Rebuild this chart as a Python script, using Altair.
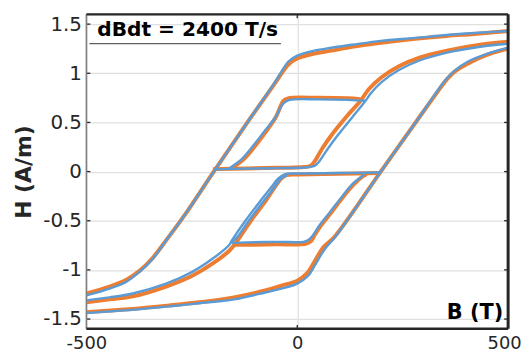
import altair as alt
import pandas as pd

ORANGE = "#ED7D31"
BLUE = "#5B9BD5"

# ---- curve A: outer descending branch ----
a_blue_b = [500, 420, 355, 280, 198, 130, 81, 40, 0, -21, -37, -56, -115, -198, -265, -311, -343, -374, -405, -445, -500]
a_blue_h = [1.43, 1.41, 1.39, 1.36, 1.33, 1.29, 1.26, 1.23, 1.18, 1.12, 1.02, 0.89, 0.52, 0.0, -0.43, -0.70, -0.89, -1.02, -1.12, -1.19, -1.26]
a_orng_b = [500, 420, 355, 280, 198, 130, 81, 40, 0, -21, -37, -56, -115, -198, -265, -311, -343, -374, -405, -445, -500]
a_orng_h = [1.43, 1.40, 1.38, 1.35, 1.31, 1.27, 1.23, 1.20, 1.15, 1.09, 1.00, 0.88, 0.52, 0.0, -0.43, -0.70, -0.88, -1.01, -1.10, -1.17, -1.24]

# ---- curve B: outer ascending branch ----
b_blue_b = [-500, -400, -300, -233, -150, -76, -37, 0, 26, 41, 65, 89, 198, 289, 324, 355, 374, 405, 445, 500]
b_blue_h = [-1.44, -1.41, -1.37, -1.34, -1.30, -1.23, -1.19, -1.14, -1.06, -0.96, -0.79, -0.67, 0.0, 0.55, 0.77, 0.95, 1.03, 1.12, 1.19, 1.26]
b_orng_b = [-500, -400, -300, -233, -150, -76, -37, 0, 24, 39, 62, 89, 198, 289, 324, 355, 374, 405, 445, 500]
b_orng_h = [-1.43, -1.40, -1.36, -1.33, -1.28, -1.21, -1.16, -1.11, -1.03, -0.93, -0.77, -0.66, 0.0, 0.55, 0.76, 0.94, 1.02, 1.10, 1.18, 1.25]

# ---- curve C: middle upper branch, right side of upper minor loop ----
c_blue_b = [500, 434, 355, 290, 240, 200, 175, 162, 130, 96, 72, 55, 45, 35, 18, -50, -120, -195]
c_blue_h = [1.30, 1.27, 1.21, 1.13, 1.03, 0.91, 0.80, 0.72, 0.55, 0.37, 0.23, 0.12, 0.07, 0.05, 0.042, 0.035, 0.03, 0.022]
c_orng_b = [500, 434, 355, 290, 240, 200, 170, 150, 115, 81, 60, 45, 35, 25, 10, -50, -120, -200]
c_orng_h = [1.32, 1.29, 1.23, 1.16, 1.07, 0.96, 0.84, 0.72, 0.55, 0.37, 0.24, 0.13, 0.07, 0.05, 0.045, 0.038, 0.032, 0.025]

# ---- curve D: left side and top edge of upper minor loop ----
d_blue_b = [-162, -155, -131, -107, -76, -52, -37, -28, -18, 50, 120, 162]
d_blue_h = [0.03, 0.05, 0.13, 0.25, 0.42, 0.55, 0.67, 0.71, 0.73, 0.735, 0.73, 0.72]
d_orng_b = [-158, -150, -126, -102, -72, -50, -40, -33, -22, 50, 120, 150]
d_orng_h = [0.03, 0.05, 0.13, 0.25, 0.42, 0.56, 0.66, 0.72, 0.745, 0.75, 0.745, 0.735]

# ---- curve E: middle lower branch, left side of lower minor loop ----
e_blue_b = [-500, -445, -390, -311, -249, -202, -162, -155, -123, -84, -60, -45, -29, 0, 100, 195]
e_blue_h = [-1.31, -1.28, -1.24, -1.14, -1.02, -0.89, -0.75, -0.70, -0.50, -0.28, -0.15, -0.07, -0.025, -0.02, -0.015, -0.01]
e_orng_b = [-500, -445, -390, -311, -249, -202, -160, -145, -110, -72, -52, -38, -25, 0, 100, 195]
e_orng_h = [-1.33, -1.30, -1.27, -1.17, -1.06, -0.94, -0.80, -0.72, -0.50, -0.28, -0.15, -0.07, -0.035, -0.03, -0.022, -0.015]

# ---- curve F: right side, bottom edge (and return) of lower minor loop ----
f_blue_b = [159, 150, 130, 107, 76, 52, 37, 25, 15, -50, -120, -157, -145, -115, -76, -52, -38, -25]
f_blue_h = [-0.03, -0.06, -0.13, -0.25, -0.42, -0.55, -0.65, -0.70, -0.715, -0.715, -0.72, -0.72, -0.68, -0.50, -0.28, -0.15, -0.07, -0.04]
f_orng_b = [165, 155, 134, 110, 80, 56, 42, 32, 20, -50, -120, -150]
f_orng_h = [-0.025, -0.05, -0.13, -0.25, -0.42, -0.55, -0.64, -0.71, -0.735, -0.74, -0.745, -0.745]

y_ticks = [-1.5, -1, -0.5, 0, 0.5, 1, 1.5]
x_ticks = [-500, 0, 500]

TITLE = "dBdt = 2400 T/s"
XLAB = "B (T)"
YLAB = "H (A/m)"


def to_frame(curves):
    rows = []
    for name, (bs, hs) in curves.items():
        for i, (b, h) in enumerate(zip(bs, hs)):
            rows.append({"seg": name, "i": i, "B": b, "H": h})
    return pd.DataFrame(rows)


orange_df = to_frame({
    "A": (a_orng_b, a_orng_h), "B": (b_orng_b, b_orng_h), "C": (c_orng_b, c_orng_h),
    "D": (d_orng_b, d_orng_h), "E": (e_orng_b, e_orng_h), "F": (f_orng_b, f_orng_h),
})
blue_df = to_frame({
    "A": (a_blue_b, a_blue_h), "B": (b_blue_b, b_blue_h), "C": (c_blue_b, c_blue_h),
    "D": (d_blue_b, d_blue_h), "E": (e_blue_b, e_blue_h), "F": (f_blue_b, f_blue_h),
})

FONT = "DejaVu Sans"
xscale = alt.Scale(domain=[-500, 500], nice=False, zero=False)
yscale = alt.Scale(domain=[-1.6, 1.6], nice=False, zero=False)

xaxis = alt.Axis(values=x_ticks, labelExpr="'' + datum.value", title=None, domain=False,
                 ticks=False, grid=True, gridColor="#e0e0e0", gridWidth=1.2,
                 labelFont=FONT, labelFontSize=18, labelColor="#262626", labelPadding=6,
                 labelFlush=False,
                 labelOffset={"condition": {"test": "datum.value == 500", "value": -4}, "value": 0})
yaxis = alt.Axis(values=y_ticks, labelExpr="'' + datum.value", title=YLAB, domain=False,
                 ticks=False, grid=True, gridColor="#e0e0e0", gridWidth=1.2,
                 labelFont=FONT, labelFontSize=20, labelColor="#262626", labelPadding=5,
                 titleFont=FONT, titleFontSize=22, titleFontWeight="bold", titleColor="#262626",
                 titlePadding=7)

X = alt.X("B:Q", scale=xscale, axis=xaxis)
Y = alt.Y("H:Q", scale=yscale, axis=yaxis)

orange = alt.Chart(orange_df).mark_line(color=ORANGE, strokeWidth=4, clip=True,
                                        interpolate="catmull-rom").encode(
    x=X, y=Y, detail="seg:N", order="i:Q")

blue = alt.Chart(blue_df).mark_line(color=BLUE, strokeWidth=2.4, clip=True,
                                    interpolate="catmull-rom").encode(
    x=X, y=Y, detail="seg:N", order="i:Q")

W, H = 425, 317
ytick_df = pd.DataFrame({"H": y_ticks})
xtick_df = pd.DataFrame({"B": [0]})

lticks = alt.Chart(ytick_df).mark_rule(color="#262626", strokeWidth=1.3).encode(
    y=Y, x=alt.value(0), x2=alt.value(4))
rticks = alt.Chart(ytick_df).mark_rule(color="#262626", strokeWidth=1.3).encode(
    y=Y, x=alt.value(W - 4), x2=alt.value(W))
bticks = alt.Chart(xtick_df).mark_rule(color="#262626", strokeWidth=1.3).encode(
    x=X, y=alt.value(H - 4), y2=alt.value(H))
tticks = alt.Chart(xtick_df).mark_rule(color="#262626", strokeWidth=1.3).encode(
    x=X, y=alt.value(0), y2=alt.value(4))

one = pd.DataFrame({"k": [0]})
frame_left = alt.Chart(one).mark_rule(color="#808080", strokeWidth=1.6).encode(
    x=alt.value(0), x2=alt.value(0), y=alt.value(0), y2=alt.value(H))
frame_bottom = alt.Chart(one).mark_rule(color="#262626", strokeWidth=2.5).encode(
    x=alt.value(0), x2=alt.value(W), y=alt.value(H), y2=alt.value(H))
frame_top = alt.Chart(one).mark_rule(color="#262626", strokeWidth=2.3).encode(
    x=alt.value(0), x2=alt.value(W), y=alt.value(0), y2=alt.value(0))
frame_right = alt.Chart(one).mark_rule(color="#262626", strokeWidth=3).encode(
    x=alt.value(W), x2=alt.value(W), y=alt.value(0), y2=alt.value(H))

title_txt = alt.Chart(pd.DataFrame({"t": [TITLE]})).mark_text(
    align="left", baseline="alphabetic", font=FONT, fontSize=20.3, fontWeight="bold",
    color="#000000").encode(text="t:N", x=alt.value(11), y=alt.value(22))
underline = alt.Chart(one).mark_rule(color="#606060", strokeWidth=1.3).encode(
    x=alt.value(3), x2=alt.value(196), y=alt.value(29.5), y2=alt.value(29.5))
xlab_txt = alt.Chart(pd.DataFrame({"t": [XLAB]})).mark_text(
    align="right", baseline="alphabetic", font=FONT, fontSize=21, fontWeight="bold",
    color="#000000").encode(text="t:N", x=alt.value(420), y=alt.value(307))

chart = alt.layer(
    orange, blue, lticks, rticks, bticks, tticks,
    frame_left, frame_bottom, frame_top, frame_right,
    underline, title_txt, xlab_txt
).properties(
    width=W, height=H,
    padding={"left": 79, "top": 5, "right": 15, "bottom": 25},
    autosize=alt.AutoSizeParams(type="none"),
).configure_view(stroke=None).configure(background="white")

chart.save("out.html", embed_options={"renderer": "svg", "actions": False})
